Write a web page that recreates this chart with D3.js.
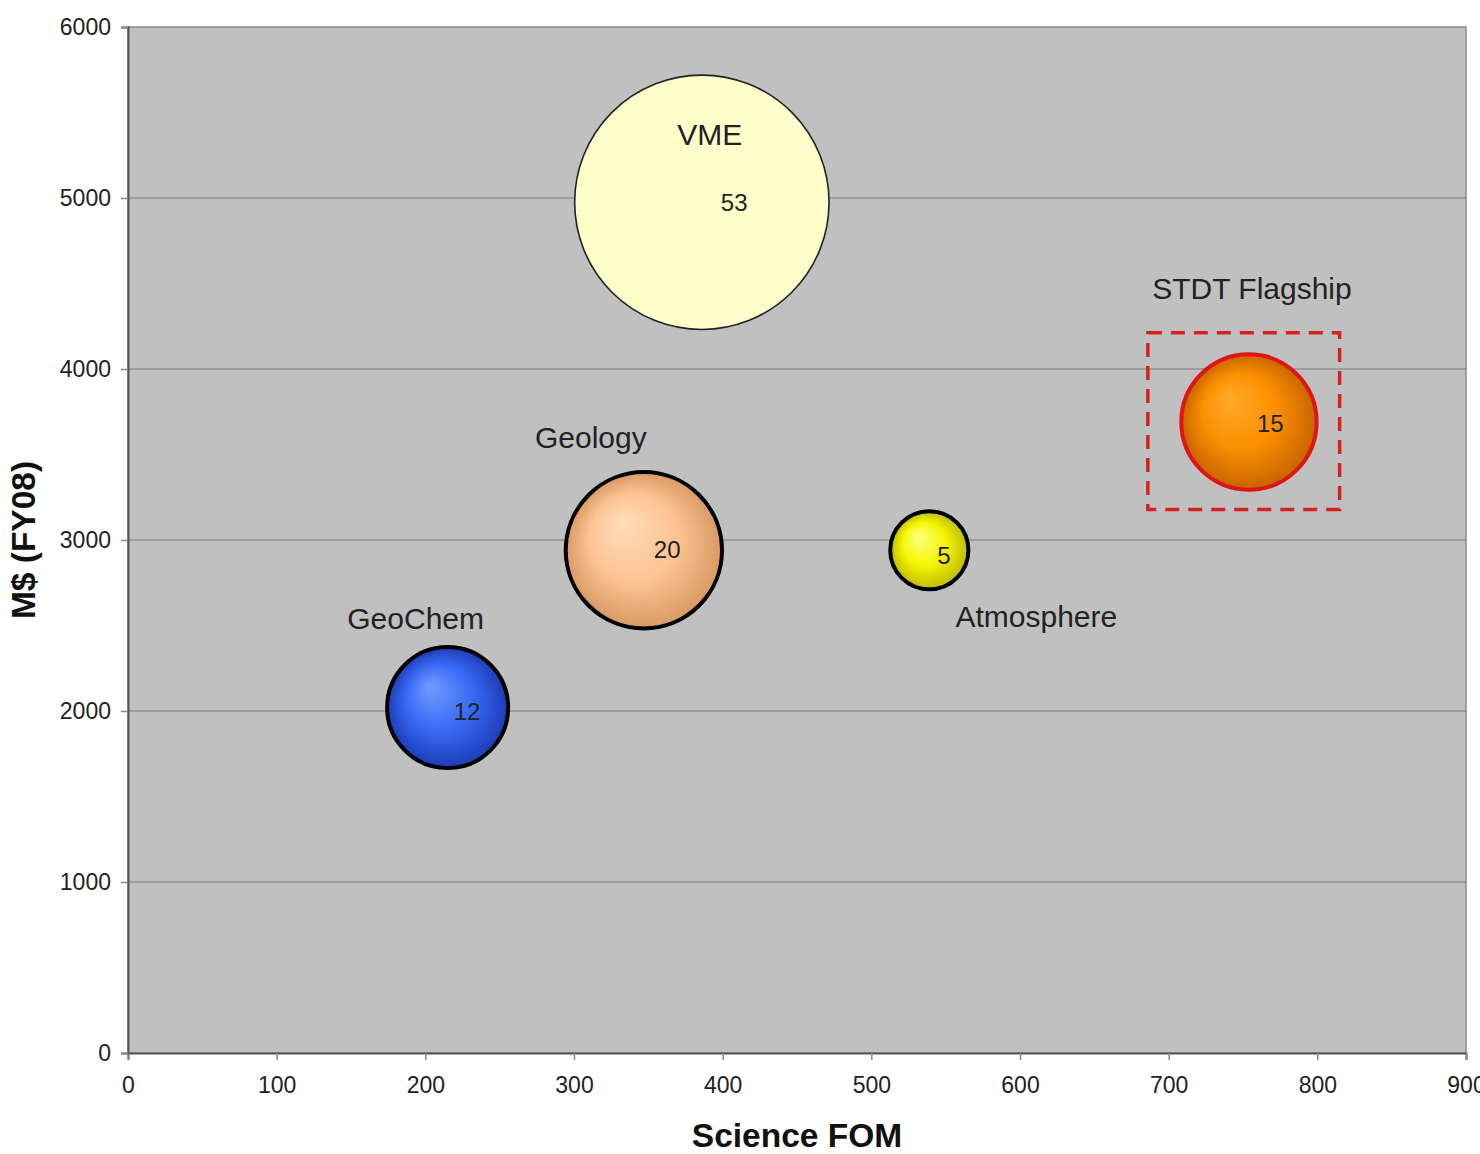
<!DOCTYPE html>
<html>
<head>
<meta charset="utf-8">
<script src="https://cdn.jsdelivr.net/npm/d3@7"></script>
<style>
  body { margin: 0; background: #fff; }
  svg { display: block; font-family: "Liberation Sans", Arial, sans-serif; }
</style>
</head>
<body>
<span></span>
<script>
// bubble chart: science figure of merit vs cost, bubble area = count

var names   = ["VME", "Geology", "GeoChem", "Atmosphere", "STDT Flagship"];
var sciFOM  = [386, 347, 215, 539, 754];
var cost    = [4975, 2940, 2020, 2940, 3690];
var counts  = [53, 20, 12, 5, 15];
var xTicks  = [0, 100, 200, 300, 400, 500, 600, 700, 800, 900];
var yTicks  = [0, 1000, 2000, 3000, 4000, 5000, 6000];
// dashed highlight box round the flagship, in data units
var boxX = [686, 815];
var boxY = [3178, 4212];

var width = 1480, height = 1154;
var margin = {top: 27, right: 14, bottom: 101, left: 128};

var data = names.map(function(n, i) {
    return {name: n, x: sciFOM[i], y: cost[i], v: counts[i]};
});

var svg = d3.select("span")
    .append("svg")
    .attr("width", width)
    .attr("height", height);

var xScale = d3.scaleLinear().domain([0, 900]).range([margin.left, width - margin.right]);
var yScale = d3.scaleLinear().domain([0, 6000]).range([height - margin.bottom, margin.top]);
var rScale = d3.scaleSqrt().domain([0, 53]).range([0, 127.2]);

// colours and label spots per bubble
var styles = {
    "VME":           {c0: "#ffffcc", c1: "#ffffcc", c2: "#ffffcc", stroke: "#222", sw: 1.6, nx: 8,   ny: -57, vx: 19, vy: 9},
    "Geology":       {c0: "#ffdcb8", c1: "#fdc495", c2: "#d99a64", stroke: "#000", sw: 4,   nx: -53, ny: -102, vx: 10, vy: 8},
    "GeoChem":       {c0: "#6e9bff", c1: "#3a6af5", c2: "#1b3cb8", stroke: "#000", sw: 4,   nx: -32, ny: -79, vx: 6,  vy: 12},
    "Atmosphere":    {c0: "#ffff8a", c1: "#f5f500", c2: "#bcbc00", stroke: "#000", sw: 4,   nx: 107, ny: 77,  vx: 8,  vy: 14},
    "STDT Flagship": {c0: "#ffab2a", c1: "#fb8f00", c2: "#c86400", stroke: "#dd1515", sw: 4, nx: 3,   ny: -123, vx: 8,  vy: 10}
};

var defs = svg.append("defs");
data.forEach(function(d, i) {
    var s = styles[d.name];
    var g = defs.append("radialGradient")
        .attr("id", "grad" + i)
        .attr("cx", "50%").attr("cy", "50%").attr("r", "50%")
        .attr("fx", "35%").attr("fy", "32%");
    g.append("stop").attr("offset", "0%").attr("stop-color", s.c0);
    g.append("stop").attr("offset", "55%").attr("stop-color", s.c1);
    g.append("stop").attr("offset", "100%").attr("stop-color", s.c2);
});

// plot background
svg.append("rect")
    .attr("x", margin.left)
    .attr("y", margin.top)
    .attr("width", width - margin.left - margin.right)
    .attr("height", height - margin.top - margin.bottom)
    .attr("fill", "#c0c0c0")
    .attr("stroke", "#8c8c8c")
    .attr("stroke-width", 1.5);

// gridlines
svg.append("g")
    .selectAll("line")
    .data(yTicks.slice(1, -1))
    .join("line")
    .attr("x1", margin.left)
    .attr("x2", width - margin.right)
    .attr("y1", d => yScale(d))
    .attr("y2", d => yScale(d))
    .attr("stroke", "#7a7a7a")
    .attr("stroke-width", 1.2);

function xAxis(g) {
    g.call(d3.axisBottom(xScale).tickValues(xTicks).tickSize(7).tickPadding(17).tickFormat(d3.format("d")));
}
function yAxis(g) {
    g.call(d3.axisLeft(yScale).tickValues(yTicks).tickSize(7).tickPadding(10).tickFormat(d3.format("d")));
}

var gx = svg.append("g")
    .attr("transform", `translate(0, ${height - margin.bottom})`)
    .call(xAxis);
var gy = svg.append("g")
    .attr("transform", `translate(${margin.left}, 0)`)
    .call(yAxis);

[gx, gy].forEach(function(g) {
    g.select(".domain").attr("stroke", "#555").attr("stroke-width", 2);
    g.selectAll(".tick line").attr("stroke", "#888").attr("stroke-width", 1.5);
    g.selectAll(".tick text")
        .attr("fill", "#222")
        .style("font-size", "23px")
        .style("font-family", "'Liberation Sans', Arial, sans-serif");
});

// highlight box
svg.append("rect")
    .attr("x", xScale(boxX[0]))
    .attr("y", yScale(boxY[1]))
    .attr("width", xScale(boxX[1]) - xScale(boxX[0]))
    .attr("height", yScale(boxY[0]) - yScale(boxY[1]))
    .attr("fill", "none")
    .attr("stroke", "#d42222")
    .attr("stroke-width", 3.5)
    .attr("stroke-dasharray", "14,9");

// bubbles
var bubbles = svg.append("g")
    .selectAll("g")
    .data(data)
    .join("g")
    .attr("transform", d => `translate(${xScale(d.x)}, ${yScale(d.y)})`);

bubbles.append("circle")
    .attr("r", d => rScale(d.v))
    .attr("fill", (d, i) => `url(#grad${i})`)
    .attr("stroke", d => styles[d.name].stroke)
    .attr("stroke-width", d => styles[d.name].sw);

bubbles.append("text")
    .attr("x", d => styles[d.name].vx)
    .attr("y", d => styles[d.name].vy)
    .attr("fill", "#222")
    .style("font-size", "24px")
    .text(d => d.v);

bubbles.append("text")
    .attr("x", d => styles[d.name].nx)
    .attr("y", d => styles[d.name].ny)
    .attr("text-anchor", "middle")
    .attr("fill", "#222")
    .style("font-size", "30px")
    .text(d => d.name);

// axis titles
svg.append("text")
    .attr("x", 797)
    .attr("y", 1147)
    .attr("text-anchor", "middle")
    .attr("fill", "#111")
    .style("font-size", "33.5px")
    .style("font-weight", "bold")
    .text("Science FOM");

svg.append("text")
    .attr("transform", "translate(35, 540) rotate(-90)")
    .attr("text-anchor", "middle")
    .attr("fill", "#111")
    .style("font-size", "33.5px")
    .style("font-weight", "bold")
    .text("M$ (FY08)");
</script>
</body>
</html>
